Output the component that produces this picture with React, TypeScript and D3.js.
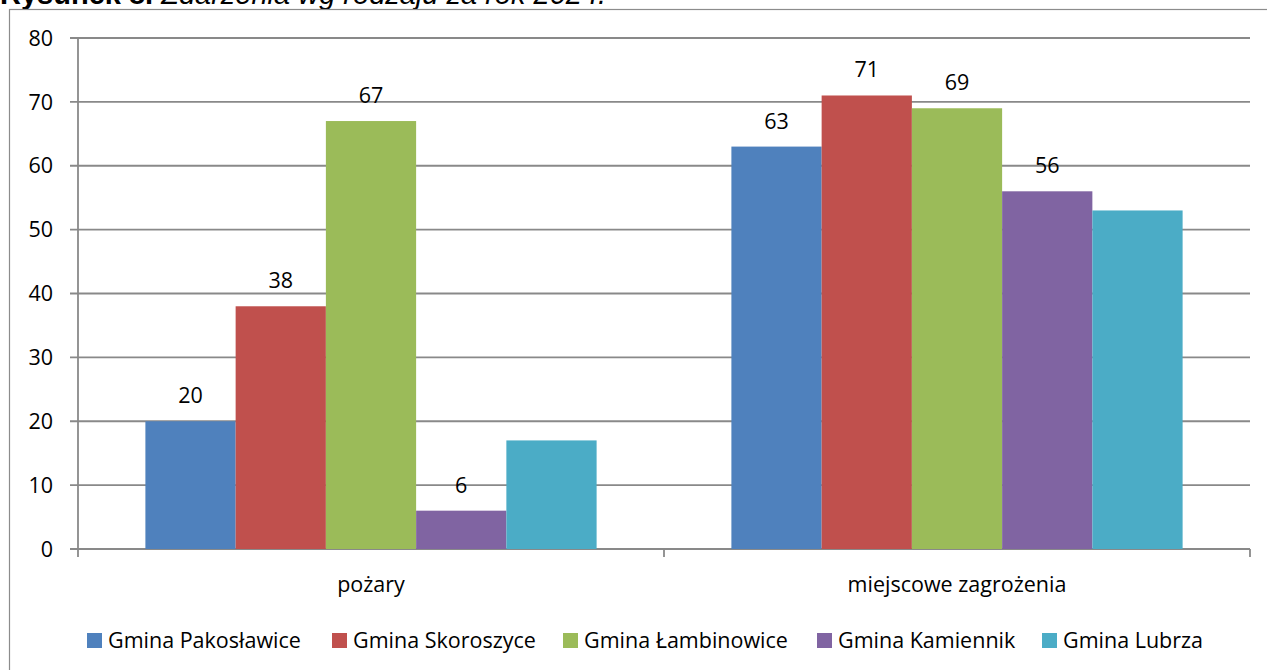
import React from "react";
import * as d3 from "d3";

const categories = ["pożary", "miejscowe zagrożenia"];
const seriesNames = ["Gmina Pakosławice", "Gmina Skoroszyce", "Gmina Łambinowice", "Gmina Kamiennik", "Gmina Lubrza"];
const seriesColors = ["#4F81BD", "#C0504D", "#9BBB59", "#8064A2", "#4BACC6"];
const valuesPozary = [20, 38, 67, 6, 17];
const valuesMiejscowe = [63, 71, 69, 56, 53];
const labelShown = [true, true, true, true, false];
const yTicks = [0, 10, 20, 30, 40, 50, 60, 70, 80];

const W = 1267;
const H = 670;
const FONT = "'Open Sans', 'Noto Sans', sans-serif";

export default function App() {
  const data = [valuesPozary, valuesMiejscowe];
  const plotLeft = 78;
  const plotRight = 1250;
  const y = d3.scaleLinear().domain([0, 80]).range([549, 38]);
  const x0 = d3.scaleBand().domain(categories).range([plotLeft, plotRight]).paddingInner(0).paddingOuter(0);
  const inner = 0.77;
  const x1 = d3
    .scaleBand()
    .domain(seriesNames)
    .range([(x0.bandwidth() * (1 - inner)) / 2, (x0.bandwidth() * (1 + inner)) / 2])
    .padding(0);

  const legendX = [87, 332, 563, 817, 1042];

  return (
    <svg
      width={W}
      height={H}
      style={{ position: "absolute", left: 0, top: 0, display: "block" }}
      fontFamily={FONT}
    >
      <rect width={W} height={H} fill="#fff" />
      <text x={0} y={4} fontFamily="'Liberation Sans', Arial, sans-serif" fontSize={29}>
        <tspan fontWeight="bold">Rysunek 8.</tspan>
        <tspan fontStyle="italic"> Zdarzenia wg rodzaju za rok 2024.</tspan>
      </text>
      <rect x={9.5} y={9.5} width={1300} height={700} fill="#fff" stroke="#8c8c8c" strokeWidth={1.2} />
      {yTicks.map((t) => (
        <g key={t}>
          <line x1={plotLeft - 8} x2={plotRight} y1={y(t)} y2={y(t)} stroke="#898989" strokeWidth={1.8} />
          <text x={53} y={y(t)} dy="0.36em" textAnchor="end" fontSize={21.5} fill="#000">
            {t}
          </text>
        </g>
      ))}
      <line x1={plotLeft} x2={plotLeft} y1={y(80)} y2={y(0) + 8} stroke="#898989" strokeWidth={1.8} />
      {[1, 2].map((i) => {
        const xx = plotLeft + i * x0.bandwidth();
        return <line key={i} x1={xx} x2={xx} y1={y(0)} y2={y(0) + 8} stroke="#898989" strokeWidth={1.8} />;
      })}
      {categories.map((c, ci) => (
        <g key={c} transform={`translate(${x0(c)},0)`}>
          {data[ci].map((v, si) => (
            <rect
              key={si}
              x={x1(seriesNames[si])}
              y={y(v)}
              width={x1.bandwidth()}
              height={y(0) - y(v)}
              fill={seriesColors[si]}
            />
          ))}
          {data[ci].map((v, si) =>
            labelShown[si] ? (
              <text
                key={"l" + si}
                x={(x1(seriesNames[si]) as number) + x1.bandwidth() / 2}
                y={y(v) - 18}
                textAnchor="middle"
                fontSize={21.5}
              >
                {v}
              </text>
            ) : null
          )}
          <text x={x0.bandwidth() / 2} y={592} textAnchor="middle" fontSize={21.5}>
            {c}
          </text>
        </g>
      ))}
      {seriesNames.map((s, i) => (
        <g key={s} transform={`translate(${legendX[i]},0)`}>
          <rect x={0} y={633} width={15} height={15} fill={seriesColors[i]} />
          <text x={21} y={648} fontSize={21.5}>
            {s}
          </text>
        </g>
      ))}
    </svg>
  );
}
